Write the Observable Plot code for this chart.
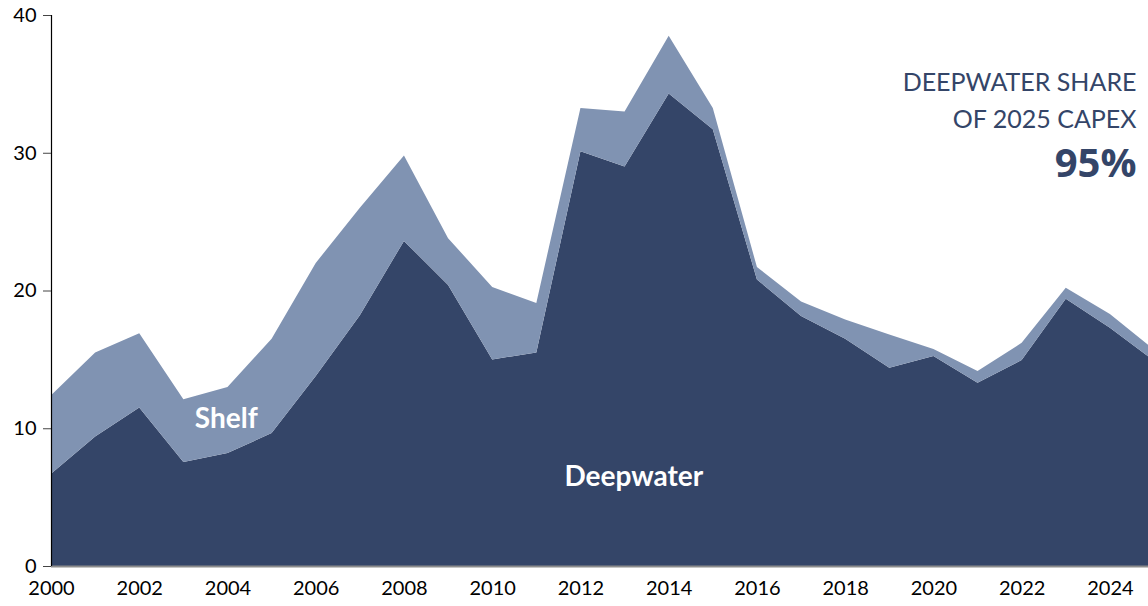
<!DOCTYPE html>
<html>
<head>
<meta charset="utf-8">
<script src="https://cdn.jsdelivr.net/npm/d3@7"></script>
<script src="https://cdn.jsdelivr.net/npm/@observablehq/plot@0.6"></script>
<style>
  html, body { margin: 0; padding: 0; background: #fff; }
  #chart { width: 1148px; height: 606px; overflow: hidden; }
</style>
</head>
<body>
<div id="chart"></div>
<script>
const years = [2000, 2001, 2002, 2003, 2004, 2005, 2006, 2007, 2008, 2009, 2010, 2011, 2012,
               2013, 2014, 2015, 2016, 2017, 2018, 2019, 2020, 2021, 2022, 2023, 2024, 2025];
const deepwater = [6.7, 9.4, 11.5, 7.55, 8.2, 9.65, 13.8, 18.2, 23.6, 20.4, 15.0, 15.5, 30.1,
                   29.0, 34.3, 31.7, 20.8, 18.15, 16.5, 14.4, 15.25, 13.3, 14.95, 19.4, 17.3, 14.9];
const shelf = [5.7, 6.1, 5.4, 4.55, 4.8, 6.85, 8.2, 7.8, 6.2, 3.4, 5.25, 3.6, 3.15,
               4.0, 4.2, 1.55, 0.9, 1.05, 1.4, 2.4, 0.5, 0.85, 1.25, 0.8, 1.0, 0.8];
const seriesNames = ["Deepwater", "Shelf"];
const seriesColors = ["#344568", "#8093b2"];
const yTicks = [0, 10, 20, 30, 40];
const xTicks = [2000, 2002, 2004, 2006, 2008, 2010, 2012, 2014, 2016, 2018, 2020, 2022, 2024];
const annotationLine1 = "DEEPWATER SHARE";
const annotationLine2 = "OF 2025 CAPEX";
const annotationValue = "95%";

const rows = [];
years.forEach((yr, i) => {
  rows.push({year: yr, type: "Deepwater", value: deepwater[i]});
});
years.forEach((yr, i) => {
  rows.push({year: yr, type: "Shelf", value: shelf[i]});
});

const navy = "#344568";

const chart = Plot.plot({
  width: 1148,
  height: 606,
  marginLeft: 51,
  marginRight: 0,
  marginTop: 15,
  marginBottom: 40,
  style: {fontFamily: "Lato, sans-serif", background: "#fff", overflow: "hidden"},
  x: {domain: [2000, 2025], range: [51, 1154]},
  y: {domain: [0, 40]},
  color: {domain: seriesNames, range: seriesColors},
  marks: [
    Plot.areaY(rows, {x: "year", y: "value", fill: "type", z: "type", clip: true}),
    Plot.ruleY([0], {stroke: "#8c8c8c", strokeWidth: 2}),
    Plot.ruleX([2000], {y1: 0, y2: 40, stroke: "#000", strokeWidth: 1.2}),
    Plot.axisY({ticks: yTicks, tickSize: 8, tickPadding: 7, fontSize: 20, stroke: "#444",
                color: "#000", label: null}),
    Plot.axisX({ticks: xTicks, tickSize: 0, tickPadding: 14, fontSize: 20, tickFormat: "d",
                color: "#000", label: null}),
    Plot.text(["Shelf"], {x: 2003.96, y: 10.7, text: d => d, fill: "#fff", fontSize: 28,
                          fontWeight: "bold"}),
    Plot.text(["Deepwater"], {x: 2013.2, y: 6.5, text: d => d, fill: "#fff", fontSize: 28,
                              fontWeight: "bold"}),
    Plot.text([annotationLine1], {frameAnchor: "top-right", text: d => d, dx: -12, dy: 67.5,
                                  fill: navy, fontSize: 25, lineAnchor: "middle"}),
    Plot.text([annotationLine2], {frameAnchor: "top-right", text: d => d, dx: -12, dy: 104,
                                  fill: navy, fontSize: 25, lineAnchor: "middle"}),
    Plot.text([annotationValue], {frameAnchor: "top-right", text: d => d, dx: -12, dy: 149,
                                  fill: navy, fontSize: 40, fontWeight: 700, fontStyle: "normal",
                                  fontFamily: "'Open Sans', sans-serif",
                                  lineAnchor: "middle"}),
  ]
});

document.getElementById("chart").appendChild(chart);
</script>
</body>
</html>
